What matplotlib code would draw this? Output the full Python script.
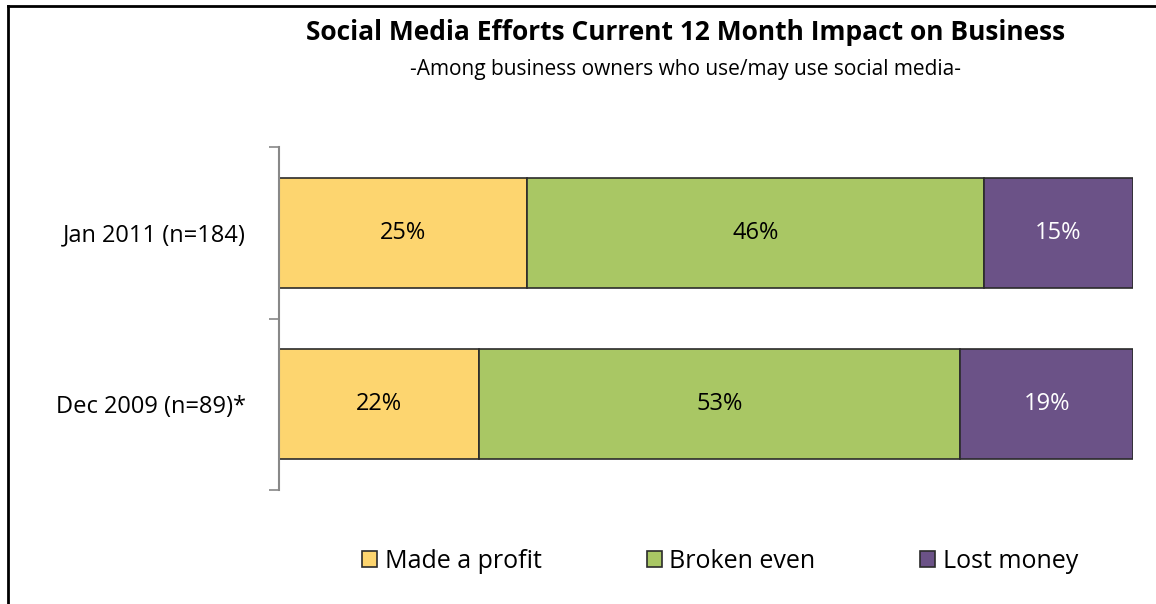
import matplotlib.pyplot as plt
from matplotlib.patches import Patch
from matplotlib.lines import Line2D
import numpy as np

plt.rcParams['font.family'] = ['Open Sans', 'DejaVu Sans']

# data (top row first)
periods = ['Jan 2011 (n=184)', 'Dec 2009 (n=89)*']
outcomes = ['Made a profit', 'Broken even', 'Lost money']
made_profit = [25, 22]
broken_even = [46, 53]
lost_money = [15, 19]

colors = ['#FDD56F', '#A9C764', '#6B5287']
text_colors = ['black', 'black', 'white']

series = np.array([made_profit, broken_even, lost_money], dtype=float)
totals = series.sum(axis=0)
shares = series / totals * 100  # 100% stacked

fig = plt.figure(figsize=(11.56, 6.04), dpi=100)
ax = fig.add_axes([279 / 1156, 1 - 490 / 604, 854 / 1156, 343 / 604])

ypos = np.arange(len(periods))[::-1]  # Jan 2011 on top
left = np.zeros(len(periods))
for i in range(len(outcomes)):
    ax.barh(ypos, shares[i], left=left, height=0.64, color=colors[i],
            edgecolor='#2b2b2b', linewidth=1.2)
    for j in range(len(periods)):
        ax.text(left[j] + shares[i][j] / 2, ypos[j], f'{int(series[i][j])}%',
                ha='center', va='center', fontsize=17, color=text_colors[i])
    left += shares[i]

ax.set_xlim(0, 100)
ax.set_ylim(-0.5, 1.5)
ax.set_xticks([])
ax.set_yticks(ypos)
ax.set_yticklabels(periods, fontsize=17)
ax.tick_params(axis='y', which='major', length=0, pad=24)
ax.set_yticks([-0.5, 0.5, 1.5], minor=True)
ax.tick_params(axis='y', which='minor', length=7, color='#888888', width=1.2)
for s in ['top', 'right', 'bottom']:
    ax.spines[s].set_visible(False)
ax.spines['left'].set_color('#888888')
ax.spines['left'].set_linewidth(1.5)

fig.text(686 / 1156, 1 - 33 / 604, 'Social Media Efforts Current 12 Month Impact on Business',
         ha='center', va='center', fontsize=19, fontweight='bold')
fig.text(686 / 1156, 1 - 69 / 604, '-Among business owners who use/may use social media-',
         ha='center', va='center', fontsize=15)

handles = [Patch(facecolor=c, edgecolor='#2b2b2b', linewidth=1.2) for c in colors]
fig.legend(handles, outcomes, loc='center', bbox_to_anchor=(720 / 1156, 1 - 561 / 604),
           ncol=3, frameon=False, fontsize=18, handlelength=0.6, handleheight=0.6,
           handletextpad=0.3, columnspacing=4.2)

# outer frame (left and top edges visible in the crop)
fig.add_artist(Line2D([8 / 1156, 8 / 1156], [0, 1 - 6 / 604], transform=fig.transFigure,
                      color='black', linewidth=2))
fig.add_artist(Line2D([8 / 1156, 1], [1 - 6 / 604, 1 - 6 / 604], transform=fig.transFigure,
                      color='black', linewidth=2))

fig.savefig('out.png', dpi=100)
